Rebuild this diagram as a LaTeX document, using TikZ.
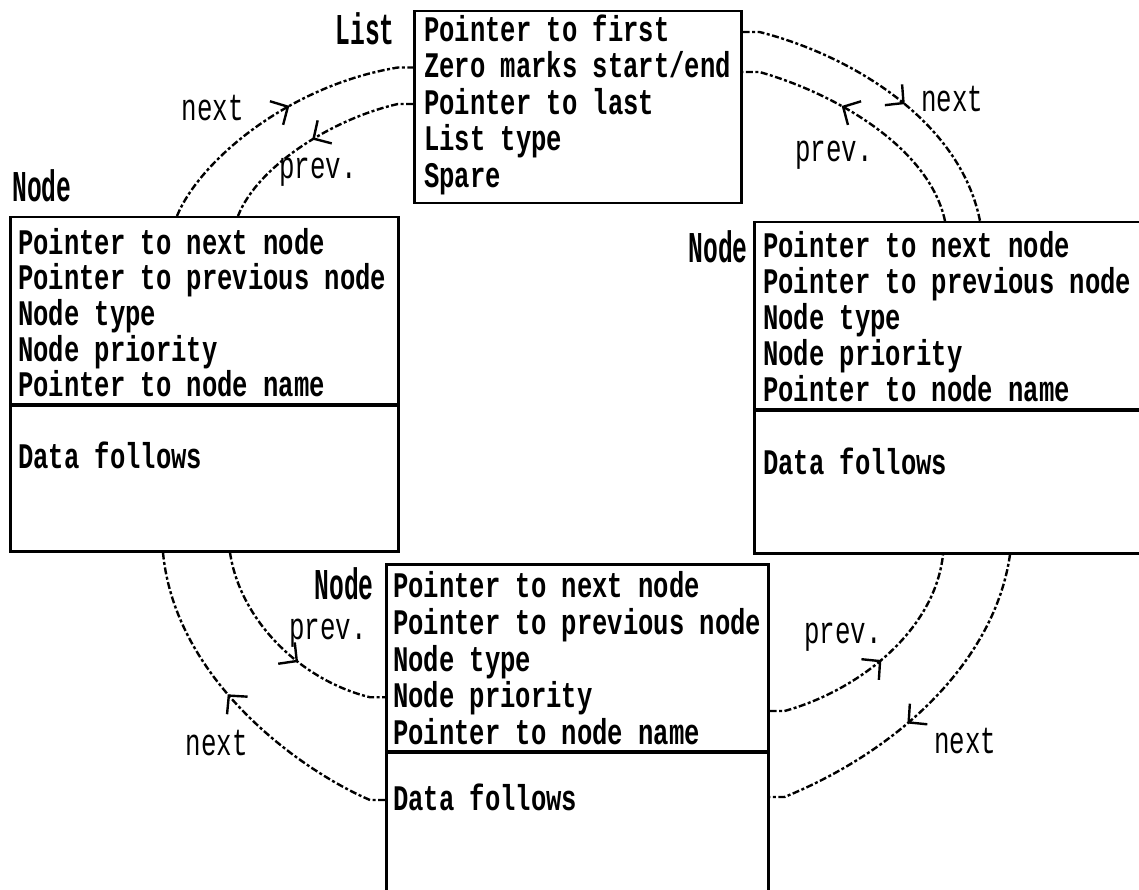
\documentclass[tikz,border=0pt]{standalone}
\usepackage{fontspec}
\usetikzlibrary{arrows.meta,decorations.markings}

% narrow, tall monospaced faces in the style of a bitmap screen font
\newfontfamily\monofield[FakeStretch=0.71]{Liberation Mono}
\newfontfamily\monotall[FakeStretch=0.56]{Liberation Mono}
\newfontfamily\mononote[FakeStretch=0.68]{Liberation Mono}
\newcommand\fieldtext{\monofield\bfseries\fontsize{36pt}{36pt}\selectfont}
\newcommand\titletext{\monotall\bfseries\fontsize{44pt}{44pt}\selectfont}
\newcommand\notetext{\mononote\fontsize{38pt}{38pt}\selectfont}

\begin{document}
\begin{tikzpicture}[x=1pt, y=-1pt,
  frame/.style={draw, line width=2.5pt, inner sep=0pt, anchor=north west},
  divider/.style={line width=3.5pt},
  field/.style={anchor=west, inner xsep=10pt, inner ysep=0pt, text height=21pt,
                text depth=0pt, font=\fieldtext},
  title/.style={font=\titletext, inner sep=0pt},
  note/.style={font=\notetext, inner sep=0pt},
  link/.style={line width=2.4pt, dash pattern=on 7pt off 2.5pt on 3pt off 2.5pt},
  tipat/.style={postaction={decorate}, decoration={markings,
      mark=at position #1 with {\arrow{Straight Barb[length=13pt,width=27pt,line width=2.4pt]}}}}]

\useasboundingbox (0,0) rectangle (1139,890);

% ---- frames -------------------------------------------------------------
\node[frame, minimum width=327pt, minimum height=192pt] (list) at (413,10) {};
\node[frame, minimum width=388pt, minimum height=334pt] (lb) at (9,216) {};
\node[frame, minimum width=420pt, minimum height=331pt] (rb) at (753,221) {};
\node[frame, minimum width=382pt, minimum height=360pt] (bb) at (385,563) {};

\draw[divider] ([yshift=-189pt]lb.north west) -- ([yshift=-189pt]lb.north east);
\draw[divider] ([yshift=-189pt]rb.north west) -- ([yshift=-189pt]rb.north east);
\draw[divider] ([yshift=-189pt]bb.north west) -- ([yshift=-189pt]bb.north east);

% ---- list header fields -------------------------------------------------
\node[field, inner xsep=11pt] (list1) at ([yshift=-21pt]list.north west) {Pointer to first};
\node[field, inner xsep=11pt] (list2) at ([yshift=-57.5pt]list.north west) {Zero marks start/end};
\node[field, inner xsep=11pt] (list3) at ([yshift=-94pt]list.north west) {Pointer to last};
\node[field, inner xsep=11pt] (list4) at ([yshift=-130.5pt]list.north west) {List type};
\node[field, inner xsep=11pt] (list5) at ([yshift=-167pt]list.north west) {Spare};

% ---- left node ----------------------------------------------------------
\node[field, inner xsep=9pt] (lb1) at ([yshift=-28pt]lb.north west) {Pointer to next node};
\node[field, inner xsep=9pt] (lb2) at ([yshift=-63.5pt]lb.north west) {Pointer to previous node};
\node[field, inner xsep=9pt] (lb3) at ([yshift=-99pt]lb.north west) {Node type};
\node[field, inner xsep=9pt] (lb4) at ([yshift=-134.5pt]lb.north west) {Node priority};
\node[field, inner xsep=9pt] (lb5) at ([yshift=-170pt]lb.north west) {Pointer to node name};
\node[field, inner xsep=9pt] (lbd) at ([yshift=-242pt]lb.north west) {Data follows};

% ---- right node ---------------------------------------------------------
\node[field] (rb1) at ([yshift=-26pt]rb.north west) {Pointer to next node};
\node[field] (rb2) at ([yshift=-62pt]rb.north west) {Pointer to previous node};
\node[field] (rb3) at ([yshift=-98pt]rb.north west) {Node type};
\node[field] (rb4) at ([yshift=-134pt]rb.north west) {Node priority};
\node[field] (rb5) at ([yshift=-170pt]rb.north west) {Pointer to node name};
\node[field] (rbd) at ([yshift=-243pt]rb.north west) {Data follows};

% ---- bottom node --------------------------------------------------------
\node[field, inner xsep=8pt] (bb1) at ([yshift=-24pt]bb.north west) {Pointer to next node};
\node[field, inner xsep=8pt] (bb2) at ([yshift=-60.75pt]bb.north west) {Pointer to previous node};
\node[field, inner xsep=8pt] (bb3) at ([yshift=-97.5pt]bb.north west) {Node type};
\node[field, inner xsep=8pt] (bb4) at ([yshift=-134.25pt]bb.north west) {Node priority};
\node[field, inner xsep=8pt] (bb5) at ([yshift=-171pt]bb.north west) {Pointer to node name};
\node[field, inner xsep=8pt] (bbd) at ([yshift=-237pt]bb.north west) {Data follows};

% ---- titles -------------------------------------------------------------
\node[title] (listtag) at (365,29) {List};
\node[title] (lbtag) at (42,186) {Node};
\node[title] (rbtag) at (718,247) {Node};
\node[title] (bbtag) at (344,584) {Node};

% ---- links --------------------------------------------------------------
\draw[link, tipat=0.56] ([yshift=-22pt]list.north east) -- ++(17,0)
  .. controls (850,55) and (960,120) .. ([xshift=227pt]rb.north west);
\draw[link, tipat=0.6] ([xshift=192pt]rb.north west)
  .. controls (930,150) and (840,95) .. ([xshift=17pt,yshift=-62pt]list.north east) -- ([yshift=-62pt]list.north east);
\draw[link, tipat=0.55] ([xshift=168pt]lb.north west)
  .. controls (200,160) and (290,85) .. ([xshift=-15pt]list2.west) -- (list2.west);
\draw[link, tipat=0.5] (list3.west) -- ++(-15,0)
  .. controls (335,118) and (258,165) .. ([xshift=229pt]lb.north west);
\draw[link, tipat=0.55] (bbd.west) -- ++(-15,0)
  .. controls (300,770) and (175,680) .. ([xshift=154pt]lb.south west);
\draw[link, tipat=0.58] ([xshift=221pt]lb.south west)
  .. controls (240,620) and (300,680) .. ([xshift=-15pt]bb4.west) -- (bb4.west);
\draw[link, tipat=0.5] ([yshift=-148pt]bb.north east) -- ++(15,0)
  .. controls (860,690) and (935,630) .. ([xshift=190pt]rb.south west);
\draw[link, tipat=0.56] ([xshift=257pt]rb.south west)
  .. controls (995,660) and (900,750) .. ([xshift=15pt,yshift=-234pt]bb.north east) -- ([yshift=-234pt]bb.north east);

% ---- link labels --------------------------------------------------------
\node[note] (n1) at (952,99) {next};
\node[note] (p1) at (834,155) {prev.};
\node[note] (n2) at (213,108) {next};
\node[note] (p2) at (318,172) {prev.};
\node[note] (n3) at (217,743) {next};
\node[note] (p3) at (328,633) {prev.};
\node[note] (n4) at (965,741) {next};
\node[note] (p4) at (843,637) {prev.};
\end{tikzpicture}
\end{document}
